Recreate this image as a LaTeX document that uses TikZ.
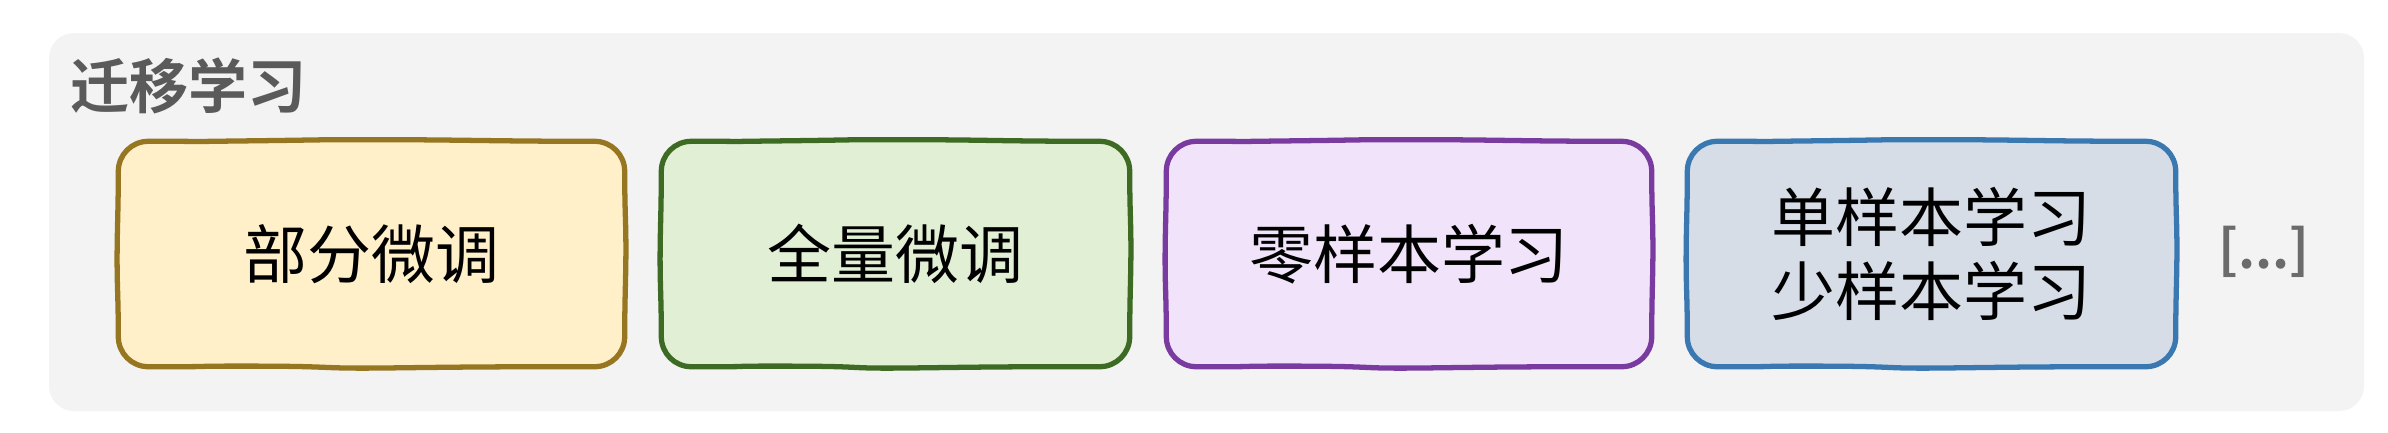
\documentclass[tikz,border=0pt]{standalone}
\usepackage{fontspec}
\newfontfamily\cjk{Noto Sans CJK SC}[BoldFont={Noto Sans CJK SC Bold}]
\usetikzlibrary{calc,backgrounds}
\definecolor{panelbg}{HTML}{F3F3F3}
\definecolor{titlegray}{HTML}{5A5A5A}
\definecolor{dotsgray}{HTML}{6B6B6B}
\definecolor{yfill}{HTML}{FFF0C9}
\definecolor{yline}{HTML}{967620}
\definecolor{gfill}{HTML}{E1F0D5}
\definecolor{gline}{HTML}{3E6B24}
\definecolor{pfill}{HTML}{F1E3F9}
\definecolor{pline}{HTML}{7A3BA0}
\definecolor{bfill}{HTML}{D6DDE7}
\definecolor{bline}{HTML}{3A78B2}
\tikzset{
  panel/.style={fill=panelbg, draw=none, rounded corners=0.25cm},
  itembox/.style={rectangle, inner sep=0pt,
    minimum height=2.24cm, align=center,
    font=\cjk\fontsize{18.2}{21.1}\selectfont, text=black},
  wobline/.style={line width=1.5pt, line join=round},
  titletext/.style={inner sep=0pt, anchor=west, text=titlegray,
    font=\cjk\bfseries\fontsize{16.8}{20}\selectfont},
  dotstext/.style={inner sep=0pt, text=dotsgray,
    font=\cjk\bfseries\fontsize{15}{17}\selectfont}
}
% hand-drawn rounded box round node #1, fill #2, line #3
\newcommand\wobbox[3]{%
\filldraw[wobline, fill=#2, draw=#3]
 ($(#1.north west)+(0,-0.3)$) arc[start angle=180, end angle=90, radius=0.3]
 .. controls +(1.0,0) and +(-1.0,-0.012) .. ($(#1.north west)!0.5!(#1.north)+(0,0.004)$)
 .. controls +(1.0,0.012) and +(-0.8,0) .. ($(#1.north)+(0.1,0.016)$)
 .. controls +(0.8,0) and +(-1.0,0) .. ($(#1.north east)+(-0.3,0)$)
 arc[start angle=90, end angle=0, radius=0.3]
 .. controls +(0,-0.4) and +(0,0.3) .. ($(#1.east)+(0.012,0.05)$)
 .. controls +(0,-0.3) and +(0,0.4) .. ($(#1.south east)+(0,0.3)$)
 arc[start angle=0, end angle=-90, radius=0.3]
 .. controls +(-1.0,0) and +(0.8,0.01) .. ($(#1.south)+(0.2,-0.012)$)
 .. controls +(-0.8,-0.01) and +(1.0,0) .. ($(#1.south west)!0.5!(#1.south)+(0,0.006)$)
 .. controls +(-0.8,0) and +(1.0,0) .. ($(#1.south west)+(0.3,0)$)
 arc[start angle=270, end angle=180, radius=0.3]
 .. controls +(0,0.4) and +(0,-0.3) .. ($(#1.west)+(-0.012,-0.05)$)
 .. controls +(0,0.3) and +(0,-0.4) .. cycle;}
\begin{document}
\begin{tikzpicture}
\useasboundingbox (0,0) rectangle (23.88,4.32);
\node[titletext] (title) at (0.70,3.46) {迁移学习};
\node[itembox, minimum width=5.05cm] (b1) at (3.715,1.78) {部分微调};
\node[itembox, minimum width=4.67cm] (b2) at (8.955,1.78) {全量微调};
\node[itembox, minimum width=4.84cm] (b3) at (14.09,1.78) {零样本学习};
\node[itembox, minimum width=4.87cm] (b4) at (19.315,1.78) {单样本学习\\少样本学习};
\node[dotstext] (more) at (22.64,1.80) {[...]};
\begin{scope}[on background layer]
\fill[white] (0,0) rectangle (23.88,4.32);
\path[panel] (0.49,0.21) rectangle (23.64,3.99);
\wobbox{b1}{yfill}{yline}
\wobbox{b2}{gfill}{gline}
\wobbox{b3}{pfill}{pline}
\wobbox{b4}{bfill}{bline}
\end{scope}
\end{tikzpicture}
\end{document}
